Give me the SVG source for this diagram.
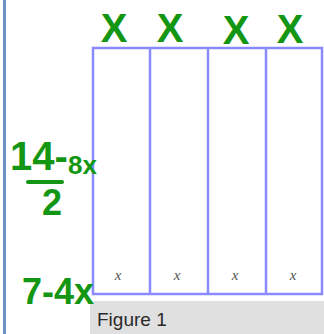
<svg xmlns="http://www.w3.org/2000/svg" width="324" height="334" viewBox="0 0 324 334">
<style>
.hw{font-family:"Liberation Sans","DejaVu Sans",sans-serif;fill:#139613;font-weight:bold}
.lbl{font-family:"Liberation Serif",serif;font-style:italic;font-size:15px;fill:#555;text-anchor:middle}
.box{fill:none;stroke:#8a8aff;stroke-width:2.5}
</style>
<rect x="0" y="0" width="324" height="334" fill="#fff"/>
<rect x="3" y="0" width="3" height="334" fill="#6a93c4"/>
<g id="figure">
<rect class="box" x="93" y="48" width="229" height="246"/>
<line class="box" x1="150" y1="48" x2="150" y2="294"/>
<line class="box" x1="208" y1="48" x2="208" y2="294"/>
<line class="box" x1="266" y1="48" x2="266" y2="294"/>
<text class="lbl" x="118" y="280">x</text>
<text class="lbl" x="177" y="280">x</text>
<text class="lbl" x="235" y="280">x</text>
<text class="lbl" x="293" y="280">x</text>
</g>
<g id="caption">
<rect x="90" y="301" width="234" height="33" fill="#e0e0e0"/>
<text x="97" y="326" font-family="Liberation Sans,sans-serif" font-size="19" fill="#2a2a2a">Figure 1</text>
</g>
<g id="annotations">
<text class="hw" x="114" y="42" font-size="40" text-anchor="middle">X</text>
<text class="hw" x="170" y="42" font-size="40" text-anchor="middle">X</text>
<text class="hw" x="236" y="44" font-size="40" text-anchor="middle">X</text>
<text class="hw" x="290" y="43" font-size="40" text-anchor="middle">X</text>
<text class="hw" x="10" y="170" font-size="40">14-</text>
<text class="hw" x="68" y="174" font-size="26">8x</text>
<line x1="28" y1="182" x2="62" y2="182" stroke="#139613" stroke-width="4" stroke-linecap="round"/>
<text class="hw" x="42" y="215" font-size="36">2</text>
<text class="hw" x="22" y="304" font-size="36">7-4x</text>
</g>
</svg>
